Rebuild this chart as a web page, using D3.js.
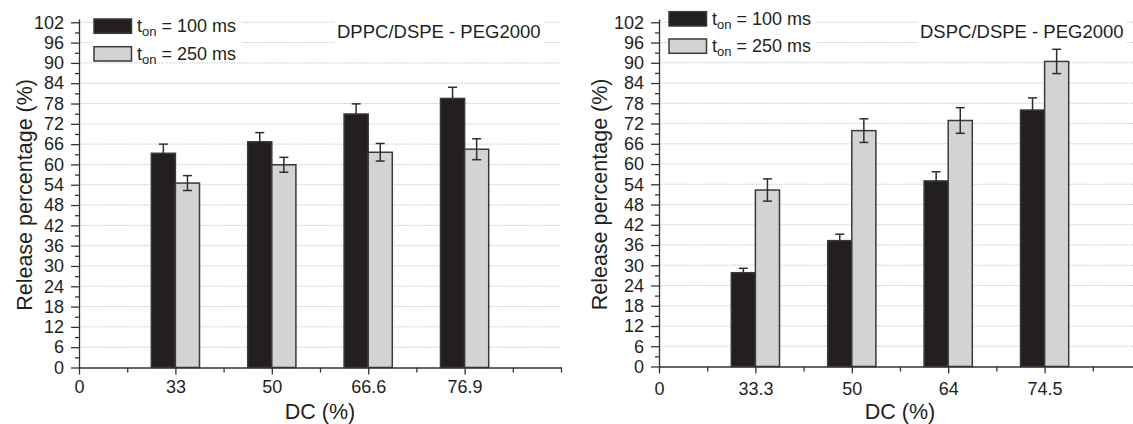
<!DOCTYPE html>
<html><head><meta charset="utf-8">
<script src="https://cdn.jsdelivr.net/npm/d3@7"></script>
<style>
body{margin:0;background:#fff;}
text{font-family:"Liberation Sans",Arial,Helvetica,sans-serif;fill:#231f20;}
</style>
</head><body>
<svg id="c" width="1133" height="424"></svg>
<script>
// ---- data ----
const yTickValues = [0,6,12,18,24,30,36,42,48,54,60,66,72,78,84,90,96,102];
const yMinorValues = [3,9,15,21,27,33,39,45,51,57,63,69,75,81,87,93,99];
const seriesNames = ["100 ms","250 ms"];

const leftCategories = ["33","50","66.6","76.9"];
const leftOn100 = [63.3,66.7,74.9,79.5];
const leftOn100Err = [2.7,2.7,3.0,3.3];
const leftOn250 = [54.5,59.9,63.6,64.5];
const leftOn250Err = [2.2,2.2,2.6,3.1];
const leftTitle = "DPPC/DSPE - PEG2000";

const rightCategories = ["33.3","50","64","74.5"];
const rightOn100 = [27.8,37.3,55.0,76.0];
const rightOn100Err = [1.3,1.9,2.7,3.6];
const rightOn250 = [52.3,69.9,72.9,90.4];
const rightOn250Err = [3.3,3.5,3.8,3.6];
const rightTitle = "DSPC/DSPE - PEG2000";

const xTitle = "DC (%)";
const yTitle = "Release percentage (%)";

const svg = d3.select("#c");
const C_DARK = "#231f20", C_LIGHT = "#d1d3d4", C_EDGE = "#3a3a3a";

function panel(cfg){
  const g = svg.append("g");
  const x = d3.scaleLinear().domain([0,10]).range([cfg.x0, cfg.x0+482]);
  const y = d3.scaleLinear().domain([0,102]).range([cfg.base, 22.3]);
  const xEnd = x(10);

  // grid
  g.append("g").selectAll("line").data(yTickValues.filter(v=>v>0)).join("line")
    .attr("x1", cfg.x0).attr("x2", xEnd).attr("y1", d=>y(d)).attr("y2", d=>y(d))
    .attr("stroke","#c6c6c6").attr("stroke-width",0.9).attr("stroke-dasharray","1.5,1");

  // white backgrounds for legend and title
  g.append("rect").attr("x",cfg.legX-1).attr("y",cfg.legY-5).attr("width",cfg.legW).attr("height",cfg.legH).attr("fill","#fff");
  g.append("rect").attr("x",cfg.titleX-2).attr("y",18).attr("width",cfg.titleW).attr("height",27).attr("fill","#fff");

  // bars
  const cats = cfg.categories.map((c,i)=>({c, pos:2+2*i, v1:cfg.s1[i], e1:cfg.e1[i], v2:cfg.s2[i], e2:cfg.e2[i]}));
  const bars = g.append("g");
  bars.selectAll("rect.a").data(cats).join("rect").attr("class","a")
    .attr("x", d=>x(d.pos-0.5)).attr("width", d=>x(d.pos)-x(d.pos-0.5))
    .attr("y", d=>y(d.v1)).attr("height", d=>y(0)-y(d.v1))
    .attr("fill",C_DARK).attr("stroke",C_EDGE).attr("stroke-width",1.5);
  bars.selectAll("rect.b").data(cats).join("rect").attr("class","b")
    .attr("x", d=>x(d.pos)).attr("width", d=>x(d.pos+0.5)-x(d.pos))
    .attr("y", d=>y(d.v2)).attr("height", d=>y(0)-y(d.v2))
    .attr("fill",C_LIGHT).attr("stroke",C_EDGE).attr("stroke-width",1.5);

  // error bars
  const errs = [];
  cats.forEach(d=>{
    errs.push({cx:(d.pos-0.25), v:d.v1, e:d.e1, dark:true});
    errs.push({cx:(d.pos+0.25), v:d.v2, e:d.e2, dark:false});
  });
  const eg = g.append("g").attr("stroke","#2e2e2e").attr("stroke-width",1.5);
  errs.forEach(d=>{
    const lo = d.dark ? d.v : d.v-d.e;
    eg.append("line").attr("x1",x(d.cx)).attr("x2",x(d.cx)).attr("y1",y(lo)).attr("y2",y(d.v+d.e));
    eg.append("line").attr("x1",x(d.cx)-4.5).attr("x2",x(d.cx)+4.5).attr("y1",y(d.v+d.e)).attr("y2",y(d.v+d.e));
    if(!d.dark) eg.append("line").attr("x1",x(d.cx)-4.5).attr("x2",x(d.cx)+4.5).attr("y1",y(d.v-d.e)).attr("y2",y(d.v-d.e));
  });

  // y axis
  const yAxisScale = d3.scaleLinear().domain([0,103]).range([y(0), y(103)]);
  const ya = g.append("g").attr("transform",`translate(${cfg.x0},0)`)
    .call(d3.axisLeft(yAxisScale).tickValues(yTickValues).tickSize(8).tickSizeOuter(0).tickPadding(7));
  const ym = g.append("g").attr("transform",`translate(${cfg.x0},0)`)
    .call(d3.axisLeft(yAxisScale).tickValues(yMinorValues).tickSize(4).tickSizeOuter(0).tickFormat(""));
  ym.select(".domain").remove();
  [ya,ym].forEach(a=>{a.selectAll("line,path").attr("stroke","#333").attr("stroke-width",1.3);});
  ya.selectAll("text").attr("font-size",18).attr("fill","#231f20").style("font-family",'"Liberation Sans",Arial,sans-serif');

  // x axis
  const xLabels = ["0"].concat(cfg.categories);
  const xa = g.append("g").attr("transform",`translate(0,${y(0)})`)
    .call(d3.axisBottom(x).tickValues([0,2,4,6,8]).tickFormat((d,i)=>xLabels[i]).tickSize(7).tickSizeOuter(0));
  const xm = g.append("g").attr("transform",`translate(0,${y(0)})`)
    .call(d3.axisBottom(x).tickValues([1,3,5,7,9,10]).tickFormat("").tickSize(5).tickSizeOuter(0));
  xm.select(".domain").remove();
  [xa,xm].forEach(a=>{a.selectAll("line,path").attr("stroke","#333").attr("stroke-width",1.3);});
  xa.selectAll("text").attr("font-size",18).attr("y",cfg.xLabBase-y(0)).attr("dy",0)
    .attr("fill","#231f20").style("font-family",'"Liberation Sans",Arial,sans-serif');

  // legend
  const leg = g.append("g");
  [[C_DARK,0],[C_LIGHT,1]].forEach(([col,i])=>{
    const ry = cfg.legY + i*cfg.legStep;
    leg.append("rect").attr("x",cfg.legX).attr("y",ry).attr("width",37.5).attr("height",14.3)
      .attr("fill",col).attr("stroke",C_EDGE).attr("stroke-width",1.5);
    const t = leg.append("text").attr("x",cfg.legX+43).attr("y",ry+12.8).attr("font-size",18);
    t.append("tspan").text("t");
    t.append("tspan").text("on").attr("font-size",13).attr("dy",4);
    t.append("tspan").text(" = " + seriesNames[i]).attr("dy",-4);
  });

  // title
  g.append("text").attr("x",cfg.titleX).attr("y",38.3).attr("font-size",18.5).text(cfg.title);

  // axis titles
  g.append("text").attr("x",(cfg.x0+xEnd)/2).attr("y",419).attr("text-anchor","middle").attr("font-size",21.5).text(xTitle);
  g.append("text").attr("transform",`translate(${cfg.yTitleX},${(y(0)+y(102))/2}) rotate(-90)`)
    .attr("text-anchor","middle").attr("font-size",21.5).text(yTitle);
}

panel({x0:79, base:367.5, categories:leftCategories, s1:leftOn100, e1:leftOn100Err, s2:leftOn250, e2:leftOn250Err,
  title:leftTitle, titleX:337, titleW:208, legX:94, legY:19, legStep:27.7, legW:148, legH:40,
  xLabBase:393, yTitleX:31.5});
panel({x0:659, base:366.5, categories:rightCategories, s1:rightOn100, e1:rightOn100Err, s2:rightOn250, e2:rightOn250Err,
  title:rightTitle, titleX:920, titleW:209, legX:669, legY:11.7, legStep:27.3, legW:148, legH:54,
  xLabBase:395, yTitleX:607});
</script>
</body></html>
